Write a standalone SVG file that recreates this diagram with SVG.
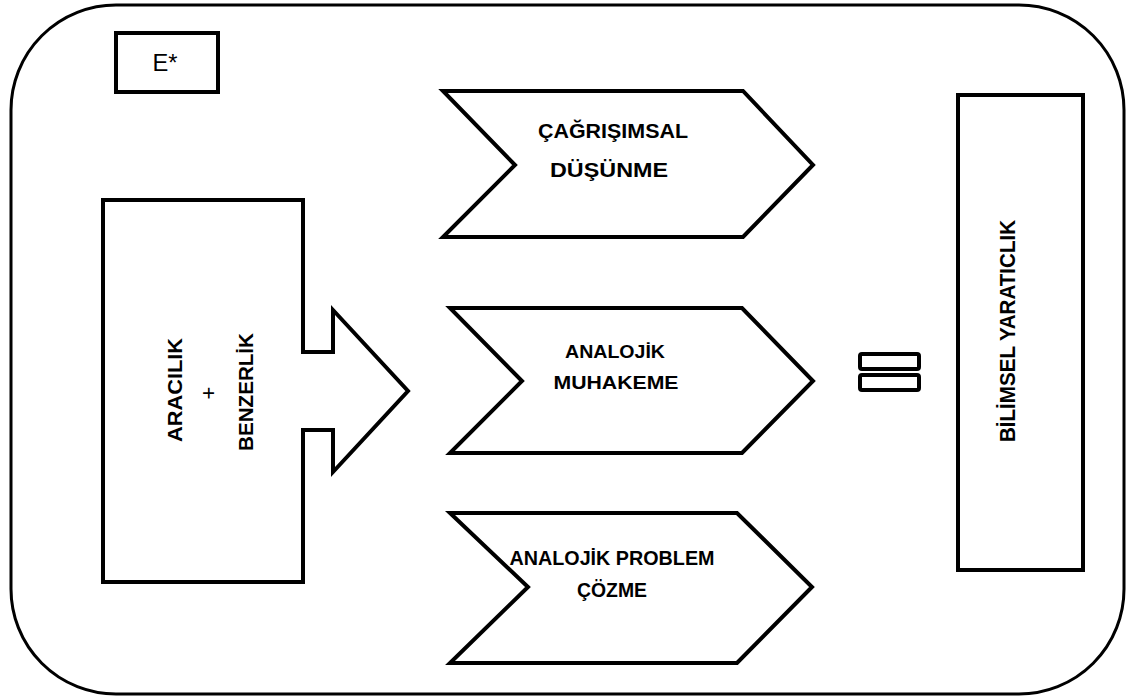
<svg xmlns="http://www.w3.org/2000/svg" width="1131" height="700" viewBox="0 0 1131 700">
<style>
.sh{fill:#fff;stroke:#000;stroke-width:4;stroke-linejoin:miter}
.t{font-family:"Liberation Sans",Arial,sans-serif;font-weight:bold;fill:#000;text-anchor:middle}
</style>
<rect width="1131" height="700" fill="#fff"/>
<g id="frame"><rect x="11" y="5" width="1113" height="689" rx="105" ry="105" fill="#fff" stroke="#000" stroke-width="3"/></g>
<g id="e-box"><rect class="sh" x="116" y="33" width="102" height="59"/>
<text x="165" y="71" font-family="Liberation Sans, Arial, sans-serif" font-size="23" text-anchor="middle" textLength="25" lengthAdjust="spacingAndGlyphs">E*</text></g>
<g id="source">
<polygon class="sh" points="103,200 303,200 303,352 333,352 333,310 408,391 333,472 333,430 303,430 303,582 103,582"/>
<text class="t" font-size="21" textLength="104" lengthAdjust="spacingAndGlyphs" transform="translate(182,390) rotate(-90)">ARACILIK</text>
<text x="0" y="0" font-family="Liberation Sans, Arial, sans-serif" font-size="22" text-anchor="middle" transform="translate(216,393) rotate(-90)">+</text>
<text class="t" font-size="20" textLength="118" lengthAdjust="spacingAndGlyphs" transform="translate(253,392) rotate(-90)">BENZERLİK</text>
</g>
<g id="c1">
<polygon class="sh" points="443,91 743,91 813,165 743,237 443,237 515,165"/>
<text class="t" x="613" y="138" font-size="21" textLength="150" lengthAdjust="spacingAndGlyphs">ÇAĞRIŞIMSAL</text>
<text class="t" x="609" y="177" font-size="21" textLength="118" lengthAdjust="spacingAndGlyphs">DÜŞÜNME</text>
</g>
<g id="c2">
<polygon class="sh" points="450,308 742,308 813,381 742,453 450,453 522,381"/>
<text class="t" x="615" y="358" font-size="18" textLength="100" lengthAdjust="spacingAndGlyphs">ANALOJİK</text>
<text class="t" x="616" y="389" font-size="18" textLength="125" lengthAdjust="spacingAndGlyphs">MUHAKEME</text>
</g>
<g id="c3">
<polygon class="sh" points="450,513 737,513 812,587 737,663 450,663 528,587"/>
<text class="t" x="612" y="565" font-size="20" textLength="205" lengthAdjust="spacingAndGlyphs">ANALOJİK PROBLEM</text>
<text class="t" x="612" y="597" font-size="20" textLength="70" lengthAdjust="spacingAndGlyphs">ÇÖZME</text>
</g>
<g id="equals">
<rect class="sh" x="860" y="354" width="59" height="15" rx="2"/>
<rect class="sh" x="860" y="375" width="59" height="15" rx="2"/>
</g>
<g id="result">
<rect class="sh" x="958" y="95" width="125" height="475"/>
<text class="t" font-size="22" textLength="222" lengthAdjust="spacingAndGlyphs" transform="translate(1015,331) rotate(-90)">BİLİMSEL YARATICLIK</text>
</g>
<g id="connectors"></g>
</svg>
